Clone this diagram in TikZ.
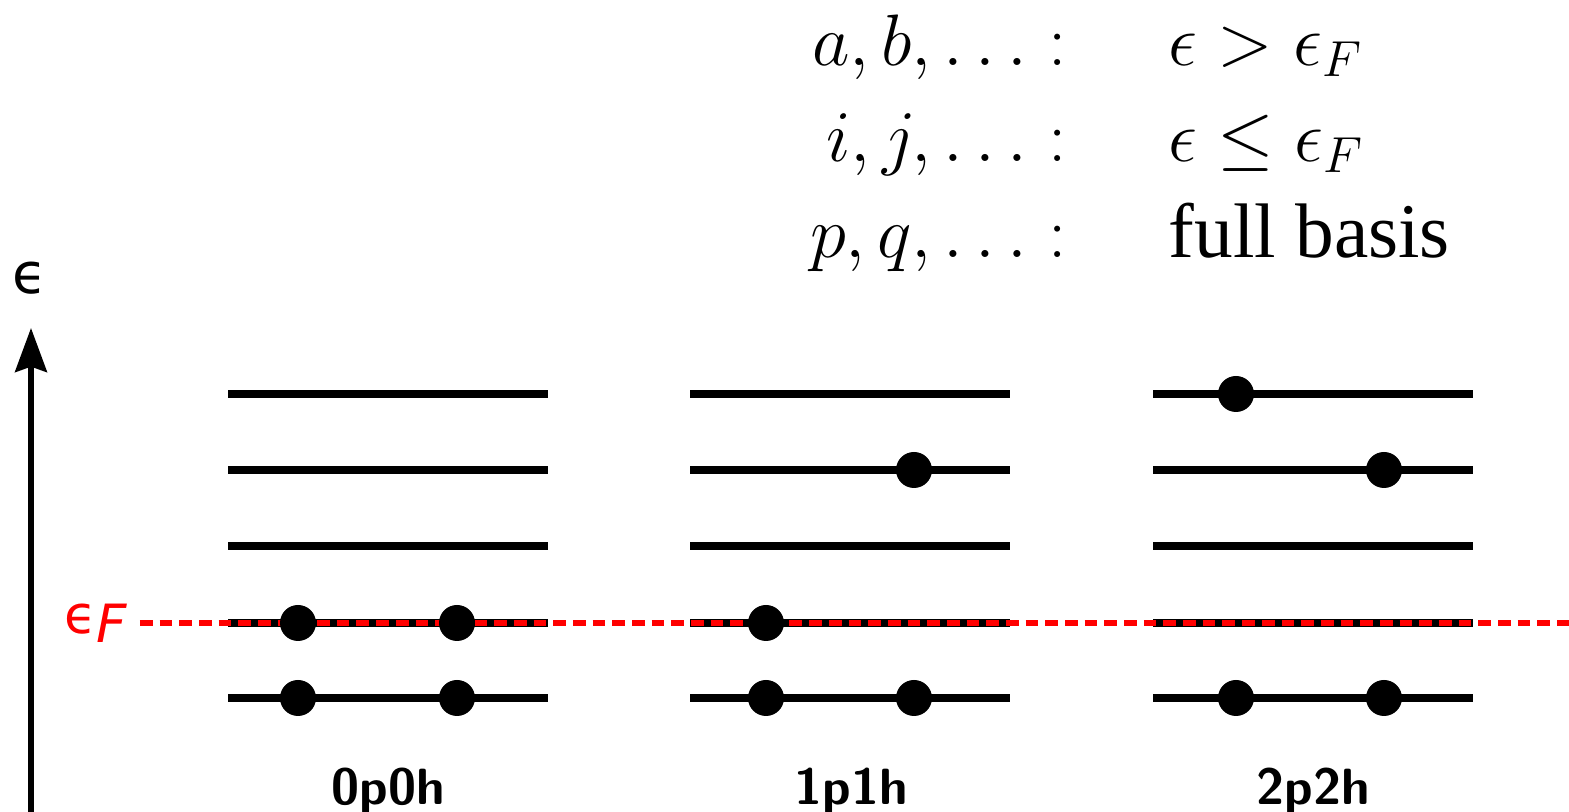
\documentclass[tikz,border=0pt]{standalone}
\usepackage{fontspec}
\setmainfont{Liberation Serif}
\newfontfamily\grksans{DejaVu Sans}
\usetikzlibrary{arrows.meta}
\tikzset{
    lvl/.style={line width=2.5pt},
    occ/.style={circle, fill, inner sep=0pt, minimum size=0.36cm},
    fermi/.style={red, line width=1.7pt, dash pattern=on 3.6pt off 2pt},
    cfg/.style={font=\sffamily\bfseries\fontsize{14.5}{17}\selectfont, anchor=base, inner sep=0pt},
    legend/.style={font=\fontsize{22}{26}\selectfont, inner sep=0pt}
}

\begin{document}
\begin{tikzpicture}
    \useasboundingbox (0,0) rectangle (15.69,8.12);

    % energy axis
    \coordinate (ax0) at (0.31,0);
    \coordinate (ax1) at (0.31,4.84);
    \node[font=\grksans\fontsize{16}{18}\selectfont] (eps) at (0.30,5.34) {ϵ};
    \draw[-{Stealth[length=12.5pt, width=9pt, inset=1.5pt]}, line width=1.7pt] (ax0) -- (ax1);

    % single-particle levels
    \foreach \x in {2.28, 6.90, 11.53}
        \foreach \y in {1.14, 1.89, 2.66, 3.42, 4.18}
            \draw[lvl] (\x,\y) -- ++(3.2,0);

    % Fermi level
    \node[anchor=east, text=red, inner sep=0pt, font=\grksans\fontsize{15}{17}\selectfont] (ef) at (1.28,1.89)
        {ϵ\raisebox{-0.3ex}{\itshape F}};
    \coordinate (fend) at (15.69,1.89);
    \draw[fermi] ([xshift=0.12cm]ef.east) -- (fend);

    % occupations
    \node[occ] (o1) at (2.98,1.89) {};
    \node[occ] (o2) at (4.57,1.89) {};
    \node[occ] (o3) at (2.98,1.14) {};
    \node[occ] (o4) at (4.57,1.14) {};

    \node[occ] (s1) at (9.14,3.42) {};
    \node[occ] (s2) at (7.66,1.89) {};
    \node[occ] (s3) at (7.66,1.14) {};
    \node[occ] (s4) at (9.14,1.14) {};

    \node[occ] (d1) at (12.36,4.18) {};
    \node[occ] (d2) at (13.84,3.42) {};
    \node[occ] (d3) at (12.36,1.14) {};
    \node[occ] (d4) at (13.84,1.14) {};

    \node[cfg] (c0) at (3.88,0.07) {0p0h};
    \node[cfg] (c1) at (8.51,0.07) {1p1h};
    \node[cfg] (c2) at (13.13,0.07) {2p2h};

    % index conventions
    \node[legend, anchor=base east] (ab) at (10.67,7.46) {$a, b, \dots :$};
    \node[legend, anchor=base west] (abr) at (11.68,7.46) {$\epsilon > \epsilon_F$};
    \node[legend, anchor=base east] (ij) at (10.67,6.50) {$i, j, \dots :$};
    \node[legend, anchor=base west] (ijr) at (11.68,6.50) {$\epsilon \leq \epsilon_F$};
    \node[legend, anchor=base east] (pq) at (10.67,5.54) {$p, q, \dots :$};
    \node[legend, anchor=base west] (pqr) at (11.68,5.54) {full basis};
\end{tikzpicture}
\end{document}
